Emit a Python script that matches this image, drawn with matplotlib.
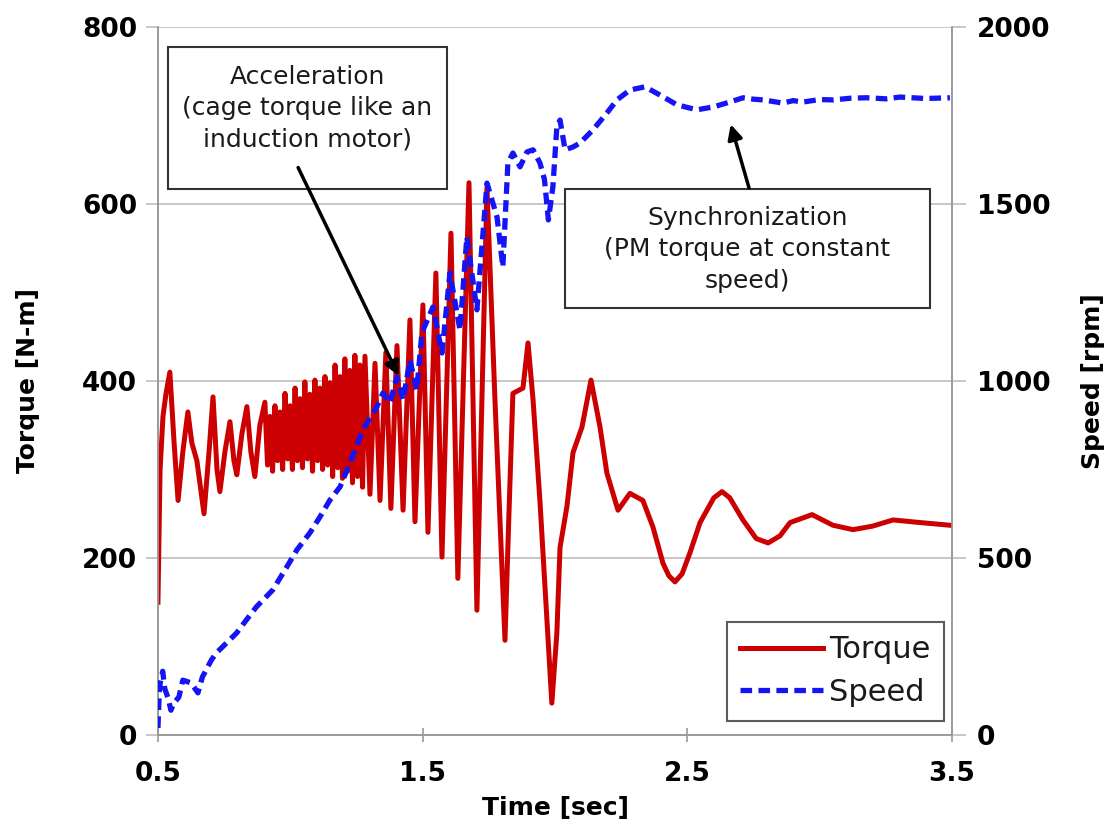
import matplotlib
matplotlib.use('Agg')
import matplotlib.pyplot as plt
from matplotlib.patches import Rectangle

# torque trace
t_torque = [0.500, 0.508, 0.519, 0.530, 0.545, 0.561, 0.576, 0.594, 0.613, 0.628,
            0.647, 0.674, 0.693, 0.708, 0.723, 0.734, 0.753, 0.772, 0.787, 0.798,
            0.817, 0.836, 0.851, 0.866, 0.885,
            0.904, 0.914, 0.923, 0.933, 0.942, 0.952, 0.961, 0.971, 0.980, 0.990,
            0.999, 1.008, 1.018, 1.027, 1.036, 1.046, 1.055, 1.065, 1.074, 1.084,
            1.093, 1.103, 1.112, 1.122, 1.131, 1.141, 1.150, 1.160, 1.169, 1.179,
            1.188, 1.197, 1.206, 1.216, 1.225, 1.235, 1.244, 1.254, 1.263, 1.273,
            1.282, 1.301, 1.320, 1.339, 1.361,
            1.380, 1.403, 1.426, 1.452, 1.471, 1.501, 1.520, 1.550, 1.573, 1.607,
            1.633, 1.675, 1.705, 1.743, 1.773, 1.811, 1.826, 1.841, 1.879, 1.898,
            1.917, 1.943, 1.988, 2.007, 2.019, 2.045, 2.068, 2.102, 2.136, 2.170,
            2.196, 2.238, 2.283, 2.332, 2.370, 2.408, 2.430, 2.453, 2.480, 2.510,
            2.548, 2.600, 2.631, 2.660, 2.710, 2.760, 2.805, 2.850, 2.888, 2.971,
            3.050, 3.126, 3.200, 3.277, 3.380, 3.492]
torque = [150, 300, 360, 385, 410, 330, 265, 320, 365, 330,
          310, 250, 320, 382, 300, 275, 320, 354, 310, 294,
          340, 371, 320, 292, 350,
          376, 305, 360, 298, 372, 310, 365, 300, 386, 312,
          372, 300, 392, 310, 380, 302, 399, 312, 385, 298,
          401, 310, 392, 300, 405, 305, 398, 292, 418, 302,
          405, 290, 425, 298, 412, 285, 429, 292, 418, 280,
          428, 272, 420, 265, 432,
          256, 440, 254, 469, 241, 486, 229, 522, 201, 567,
          177, 624, 141, 619, 380, 107, 250, 386, 392, 443,
          379, 265, 36, 115, 212, 258, 319, 348, 401, 348,
          296, 254, 273, 265, 235, 194, 180, 173, 182, 206,
          240, 268, 275, 268, 243, 222, 217, 225, 240, 249,
          237, 232, 236, 243, 240, 237]

# speed trace
t_speed = [0.500, 0.505, 0.509, 0.518, 0.526, 0.538, 0.549, 0.560, 0.579, 0.594,
           0.625, 0.651, 0.668, 0.702, 0.721, 0.759, 0.797, 0.834, 0.872, 0.934,
           0.987, 1.025, 1.074, 1.112, 1.150, 1.188, 1.225, 1.274, 1.327, 1.350,
           1.376, 1.403, 1.426, 1.452, 1.478, 1.497, 1.539, 1.573, 1.603, 1.641,
           1.667, 1.705, 1.743, 1.781, 1.803, 1.822, 1.841, 1.868, 1.894, 1.917,
           1.943, 1.960, 1.975, 1.992, 2.007, 2.019, 2.038, 2.068, 2.094, 2.143,
           2.196, 2.234, 2.283, 2.340, 2.396, 2.461, 2.536, 2.597, 2.661, 2.710,
           2.750, 2.786, 2.820, 2.861, 2.900, 2.937, 3.000, 3.050, 3.120, 3.179,
           3.250, 3.303, 3.400, 3.492]
speed = [20, 120, 150, 180, 130, 105, 70, 90, 107, 155,
         147, 119, 164, 212, 232, 260, 288, 325, 362, 410,
         475, 523, 571, 616, 664, 701, 768, 862, 927, 966,
         938, 1011, 946, 1059, 975, 1136, 1209, 1079, 1305, 1144,
         1407, 1201, 1559, 1463, 1322, 1616, 1644, 1605, 1647, 1653,
         1616, 1570, 1455, 1548, 1718, 1737, 1653, 1661, 1672, 1709,
         1757, 1794, 1822, 1831, 1808, 1780, 1766, 1774, 1788, 1800,
         1796, 1794, 1790, 1785, 1792, 1788, 1795, 1794, 1799, 1800,
         1797, 1802, 1798, 1800]

x_ticks = [0.5, 1.5, 2.5, 3.5]
torque_ticks = [0, 200, 400, 600, 800]
speed_ticks = [0, 500, 1000, 1500, 2000]

red = '#CC0000'
blue = '#1414F5'
grid_c = '#BEBEBE'
text_c = '#1a1a1a'

fig = plt.figure(figsize=(11.1, 8.25), dpi=100)
ax = fig.add_axes([0.1423, 0.1091, 0.7154, 0.8582])
ax2 = ax.twinx()

ln1, = ax.plot(t_torque, torque, color=red, lw=3.6, label='Torque', zorder=3)
ln2, = ax2.plot(t_speed, speed, color=blue, lw=3.8, ls=(0, (2.2, 1.2)),
                label='Speed', zorder=3)

ax.set_xlim(0.5, 3.5)
ax.set_ylim(0, 800)
ax2.set_ylim(0, 2000)
ax.set_xticks(x_ticks)
ax.set_xticklabels(['0.5', '1.5', '2.5', '3.5'])
ax.set_yticks(torque_ticks)
ax2.set_yticks(speed_ticks)

ax.yaxis.grid(True, color=grid_c, lw=1.2)
ax.set_axisbelow(True)
for a in (ax, ax2):
    for s in a.spines.values():
        s.set_color('#9A9A9A')
        s.set_linewidth(1.2)
    a.spines['top'].set_visible(False)
ax.tick_params(axis='y', length=9, color=grid_c, width=1.2, pad=6,
               labelsize=19)
ax.tick_params(axis='x', direction='inout', length=10, color='#9A9A9A',
               width=1.2, pad=14, labelsize=19)
ax2.tick_params(axis='y', length=10, color=grid_c, width=1.2, pad=8,
                labelsize=19)
for lab in ax.get_xticklabels() + ax.get_yticklabels() + ax2.get_yticklabels():
    lab.set_fontweight('bold')

ax.set_xlabel('Time [sec]', fontsize=18, fontweight='bold', labelpad=6)
ax.set_ylabel('Torque [N-m]', fontsize=18, fontweight='bold', labelpad=30)
ax2.set_ylabel('Speed [rpm]', fontsize=18, fontweight='bold', rotation=90,
               labelpad=22)

# annotation boxes
tr = ax.transData
ax2.add_patch(Rectangle((0.538, 617), 1.054, 160, transform=tr, facecolor='white',
                        edgecolor='#333333', lw=1.5, zorder=5))
ax2.text(1.065, 708, 'Acceleration\n(cage torque like an\ninduction motor)',
         transform=tr, ha='center', va='center', fontsize=18, linespacing=1.4,
         color=text_c, zorder=6)
ax2.add_patch(Rectangle((2.038, 482), 1.379, 135, transform=tr, facecolor='white',
                        edgecolor='#333333', lw=1.5, zorder=5))
ax2.text(2.727, 549, 'Synchronization\n(PM torque at constant\nspeed)',
         transform=tr, ha='center', va='center', fontsize=18, linespacing=1.4,
         color=text_c, zorder=6)

ax2.annotate('', xy=(1.414, 403), xytext=(1.025, 644), xycoords=tr, textcoords=tr,
             arrowprops=dict(arrowstyle='-|>', color='black', lw=2.5,
                             mutation_scale=22), zorder=7)
ax2.annotate('', xy=(2.661, 693), xytext=(2.736, 615), xycoords=tr, textcoords=tr,
             arrowprops=dict(arrowstyle='-|>', color='black', lw=2.5,
                             mutation_scale=22), zorder=7)

leg = ax2.legend([ln1, ln2], ['Torque', 'Speed'], loc='lower right',
                 bbox_to_anchor=(0.99, 0.02), fontsize=22, frameon=True,
                 fancybox=False, handlelength=2.7, handletextpad=0.2,
                 borderpad=0.45, labelspacing=0.45, borderaxespad=0)
leg.get_frame().set_edgecolor('#333333')
leg.get_frame().set_linewidth(1.5)
leg.set_zorder(8)
for txt in leg.get_texts():
    txt.set_color(text_c)

plt.savefig('out.png', dpi=100)
